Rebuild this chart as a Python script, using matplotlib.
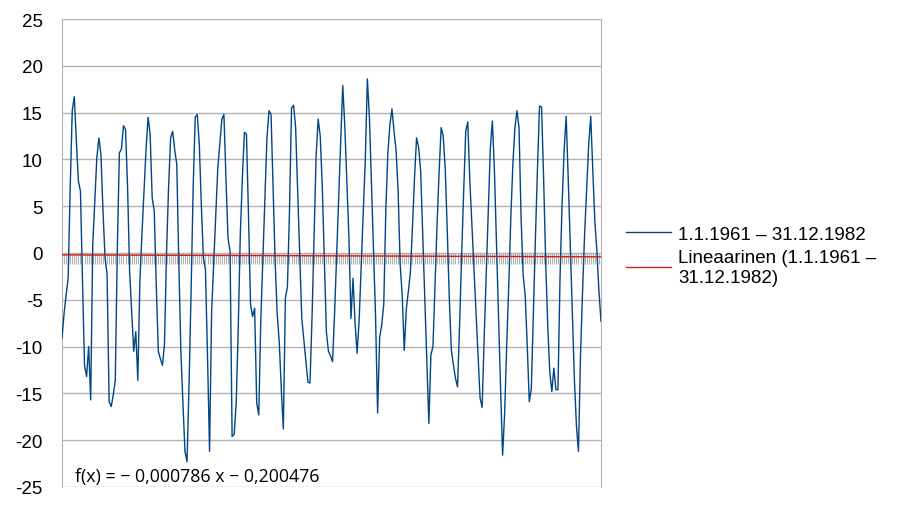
import numpy as np
import matplotlib.pyplot as plt

plt.rcParams['font.family'] = ['Liberation Sans', 'DejaVu Sans']
plt.rcParams['axes.unicode_minus'] = False

# monthly mean temperature, 1.1.1961 - 31.12.1982 (one row per year, Jan..Dec)
temps = [
    -9.1, -6.5, -4.5, -2.7, 7.0, 15.2, 16.7, 12.0, 7.7, 6.6, -3.0, -12.0,        # 1961
    -13.2, -10.0, -15.7, 0.9, 5.5, 10.2, 12.3, 10.5, 4.5, -0.5, -2.3, -15.9,     # 1962
    -16.4, -15.2, -13.6, 0.5, 10.7, 11.1, 13.6, 13.2, 7.0, -2.0, -6.3, -10.5,    # 1963
    -8.4, -13.6, -3.0, 2.0, 6.6, 11.0, 14.5, 12.7, 5.9, 4.5, -3.5, -10.5,        # 1964
    -11.3, -12.0, -9.8, 0.0, 7.0, 12.3, 13.0, 11.0, 9.5, -1.0, -10.5, -16.0,     # 1965
    -21.2, -22.3, -14.0, -4.0, 7.0, 14.5, 14.8, 11.6, 5.0, -0.5, -1.8, -11.0,    # 1966
    -21.2, -6.3, -1.2, 4.0, 9.0, 11.6, 14.3, 14.8, 8.0, 1.6, 0.2, -19.6,         # 1967
    -19.4, -16.0, -8.0, 2.0, 8.0, 12.9, 12.7, 4.0, -5.5, -6.8, -5.9, -16.0,      # 1968
    -17.3, -7.2, -0.7, 6.0, 12.3, 15.2, 14.8, 6.8, -0.9, -6.5, -9.5, -14.5,      # 1969
    -18.8, -4.8, -3.6, 4.5, 15.5, 15.8, 13.4, 6.7, -0.2, -7.0, -9.3, -11.6,      # 1970
    -13.8, -13.9, -6.9, 1.9, 10.4, 14.3, 12.5, 7.1, -0.5, -8.4, -10.5, -11.0,    # 1971
    -11.6, -6.5, -0.3, 5.9, 12.0, 17.9, 13.5, 7.5, 1.7, -7.0, -2.7, -7.5,        # 1972
    -10.7, -7.1, -1.2, 4.4, 10.0, 18.6, 14.5, 7.4, 0.4, -6.8, -17.1, -9.0,       # 1973
    -7.7, -5.5, 4.5, 10.7, 13.7, 15.4, 13.0, 11.0, 6.6, -1.2, -4.5, -10.4,       # 1974
    -6.0, -4.1, -2.0, 2.7, 8.0, 12.3, 11.3, 8.8, 2.0, -4.8, -11.6, -18.2,        # 1975
    -10.9, -10.0, -3.4, 3.0, 8.6, 13.4, 12.5, 9.0, 2.3, -5.0, -10.4, -12.0,      # 1976
    -13.4, -14.3, -7.7, -0.2, 6.6, 13.0, 14.0, 7.7, 3.0, -1.6, -6.3, -10.9,      # 1977
    -15.5, -16.5, -9.0, -2.3, 4.5, 11.2, 14.1, 8.8, 0.9, -7.0, -14.5, -21.6,     # 1978
    -17.0, -9.8, -3.4, 3.8, 9.5, 13.4, 15.2, 13.4, 3.8, -2.3, -4.5, -9.8,        # 1979
    -15.9, -14.5, -6.3, 1.6, 9.0, 15.7, 15.6, 8.0, -0.9, -7.7, -12.7, -14.8,     # 1980
    -12.3, -14.6, -14.6, -2.7, 5.2, 10.9, 14.6, 8.0, 0.9, -6.3, -13.4, -18.4,    # 1981
    -21.2, -10.9, -4.1, 2.0, 6.8, 11.6, 14.6, 8.8, 3.4, 0.2, -4.1, -7.3,         # 1982
]
months = np.arange(1, len(temps) + 1)

# linear trend as printed on the chart
slope = -0.000786
intercept = -0.200476
eq_text = "f(x) = \u2212 0,000786 x \u2212 0,200476"

series_label = "1.1.1961 \u2013 31.12.1982"
trend_label = "Lineaarinen (1.1.1961 \u2013\n31.12.1982)"

fig = plt.figure(figsize=(9.07, 5.10), dpi=100)
ax = fig.add_axes([62/907, 22/510, 539/907, 468/510])

ax.set_ylim(-25, 25)
ax.set_xlim(months[0], months[-1])
ax.set_yticks(np.arange(-25, 26, 5))
ax.grid(axis='y', color='#b3b3b3', lw=1)
ax.set_axisbelow(True)

# x axis crosses at 0, a tick for every month, no labels
ax.spines['bottom'].set_position(('data', 0))
ax.spines['bottom'].set_color('#b3b3b3')
ax.set_xticks(months)
ax.tick_params(axis='x', direction='out', length=8, color='#b3b3b3', width=0.8,
               labelbottom=False)
ax.tick_params(axis='y', length=0, pad=14, labelsize=13.5)
for s in ['left', 'right']:
    ax.spines[s].set_color('#b3b3b3')
ax.spines['top'].set_visible(False)

line1, = ax.plot(months, temps, color='#004586', lw=1, zorder=3)
trend = slope * months + intercept
line2, = ax.plot(months, trend, color='#d01c1c', lw=1, zorder=4)

ax.text(0.024, 0.024, eq_text, transform=ax.transAxes, fontsize=12.8,
        family=['Open Sans', 'DejaVu Sans'], va='center', ha='left')

fig.legend([line1, line2], [series_label, trend_label], loc='center left',
           bbox_to_anchor=(609/907, 0.497), frameon=False, fontsize=13.5,
           handlelength=2.4, handletextpad=0.4, labelspacing=0.35)

fig.savefig('out.png', dpi=100)
